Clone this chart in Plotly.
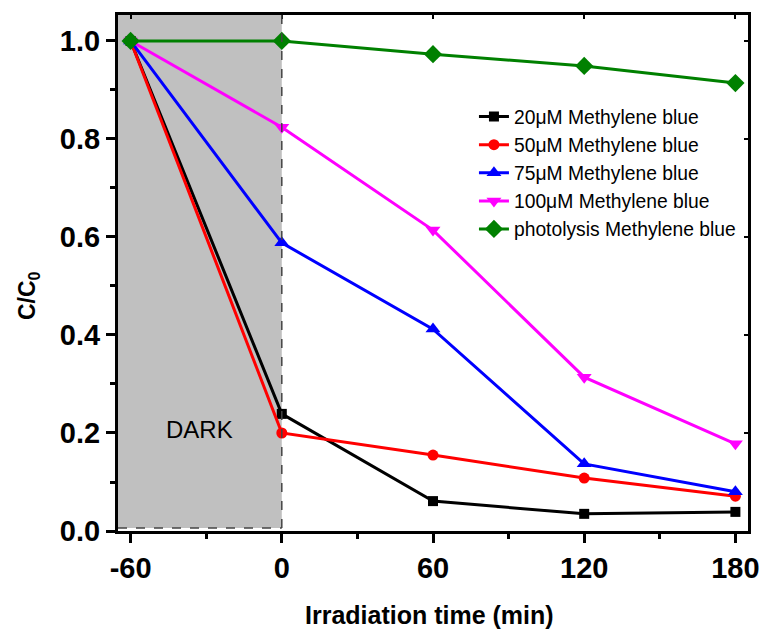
import plotly.graph_objects as go

time = [-60, 0, 60, 120, 180]
c20 = [1.0, 0.239, 0.061, 0.035, 0.039]
c50 = [1.0, 0.200, 0.155, 0.108, 0.071]
c75 = [1.0, 0.588, 0.412, 0.137, 0.080]
c100 = [1.0, 0.824, 0.614, 0.314, 0.178]
photo = [1.0, 1.0, 0.973, 0.949, 0.914]

names = ["20\u03bcM Methylene blue", "50\u03bcM Methylene blue", "75\u03bcM Methylene blue",
         "100\u03bcM Methylene blue", "photolysis Methylene blue"]
series = [c20, c50, c75, c100, photo]
colors = ["#000000", "#ff0000", "#0000ff", "#ff00ff", "#008000"]
symbols = ["square", "circle", "triangle-up", "triangle-down", "diamond"]
msizes = [10, 11, 13, 13, 14]

xticks = [-60, 0, 60, 120, 180]
yticks = [0.0, 0.2, 0.4, 0.6, 0.8, 1.0]

FONT = "Liberation Sans, Arial, sans-serif"
fig = go.Figure()
for i, (n, s) in enumerate(zip(names, series)):
    fig.add_trace(go.Scatter(
        x=time, y=s, name=n, mode="lines+markers",
        line=dict(color=colors[i], width=3),
        marker=dict(symbol=symbols[i], size=msizes[i], color=colors[i], line=dict(width=0)),
    ))

xr = [-65, 185]
yr = [0, 1.053]

fig.add_shape(type="rect", x0=xr[0], x1=0, y0=0.006, y1=yr[1], fillcolor="#c0c0c0",
              line=dict(width=0), layer="below")
fig.add_shape(type="line", x0=0, x1=0, y0=0.006, y1=yr[1], line=dict(color="#444444", width=1.5, dash="dash"))
fig.add_shape(type="line", x0=xr[0], x1=0, y0=0.006, y1=0.006, line=dict(color="#444444", width=1.5, dash="dash"))
fig.add_annotation(x=-32.5, y=0.208, text="DARK", showarrow=False,
                   font=dict(family=FONT, size=24, color="#000000"))

fig.add_annotation(xref="paper", yref="paper", x=0.495, y=-0.163, text="<b>Irradiation time (min)</b>",
                   showarrow=False, xanchor="center", yanchor="middle",
                   font=dict(family=FONT, size=25, color="#000000"))
fig.add_annotation(xref="paper", yref="paper", x=-0.143, y=0.457, text="<b>C/C<sub>0</sub></b>",
                   showarrow=False, xanchor="center", yanchor="middle", textangle=-90,
                   font=dict(family=FONT, size=23, color="#000000"))

axis_common = dict(showgrid=False, zeroline=False, showline=True, linecolor="#000000", linewidth=3,
                   ticks="outside", ticklen=9, tickwidth=3, tickcolor="#000000", automargin=False)

fig.update_layout(
    width=765, height=631,
    margin=dict(l=118, r=17, t=15, b=100),
    paper_bgcolor="white", plot_bgcolor="white",
    font=dict(family=FONT, color="#000000"),
    showlegend=True,
    legend=dict(x=0.565, y=0.84, xanchor="left", yanchor="top", bgcolor="rgba(0,0,0,0)",
                font=dict(family=FONT, size=19.3)),
    xaxis=dict(range=xr, tickvals=xticks, ticktext=[str(t) for t in xticks],
               tickfont=dict(family=FONT, size=29, weight="bold"),
               minor=dict(tickvals=[-30, 30, 90, 150], ticks="outside", ticklen=5, tickwidth=2.5, tickcolor="#000000"),
               **axis_common),
    yaxis=dict(range=yr, tickvals=yticks, ticktext=["%.1f" % t for t in yticks],
               tickfont=dict(family=FONT, size=29, weight="bold"),
               minor=dict(tickvals=[0.1, 0.3, 0.5, 0.7, 0.9], ticks="outside", ticklen=5, tickwidth=2.5, tickcolor="#000000"),
               **axis_common),
    xaxis2=dict(overlaying="x", side="top", matches="x", range=xr, tickvals=xticks, showticklabels=False,
                showgrid=False, zeroline=False, showline=True, linecolor="#000000", linewidth=3,
                ticks="inside", ticklen=4, tickwidth=1.5, tickcolor="#000000", automargin=False),
    yaxis2=dict(overlaying="y", side="right", matches="y", range=yr, tickvals=yticks, showticklabels=False,
                showgrid=False, zeroline=False, showline=True, linecolor="#000000", linewidth=3,
                ticks="inside", ticklen=4, tickwidth=1.5, tickcolor="#000000", automargin=False),
)
fig.add_trace(go.Scatter(x=[None], y=[None], xaxis="x2", yaxis="y2", showlegend=False, hoverinfo="skip"))

fig.write_html("out.html")
